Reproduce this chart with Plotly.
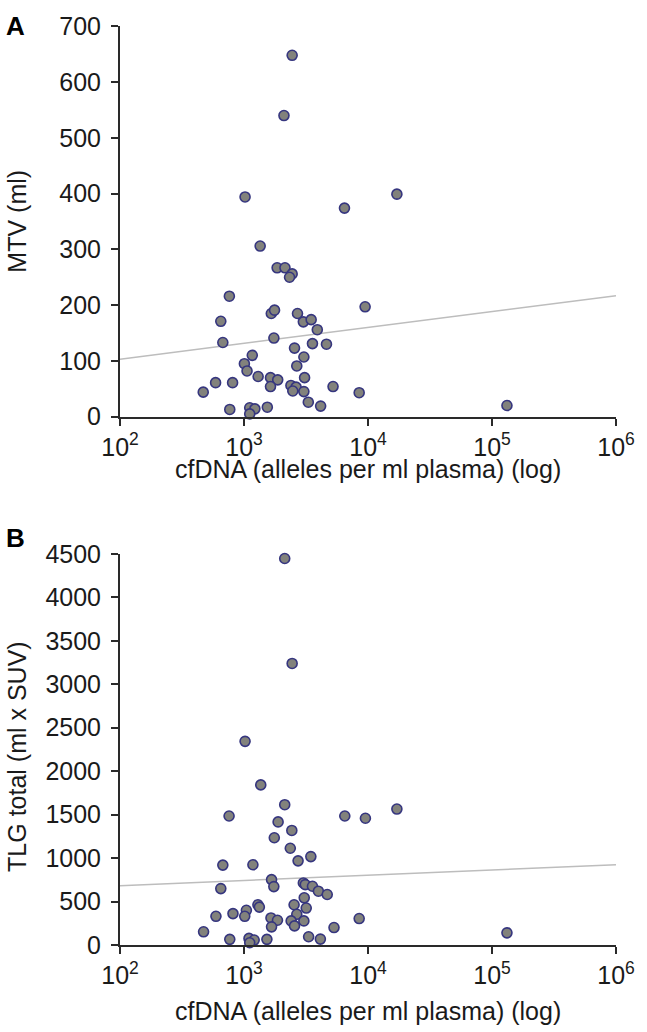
import plotly.graph_objects as go
import math

# ---------------- data ----------------
# Panel A: cfDNA (alleles/ml plasma) vs MTV (ml)
a_cfdna = [1020, 6460, 1350, 1850, 2140, 2445, 2330, 762, 650, 675, 1660, 1763, 1742,
           2700, 3010, 3480, 3900, 3565, 4625, 2555, 3040, 2665, 1166, 1007, 1058, 1300,
           1636, 1870, 1636, 3080, 2390, 2630, 2475, 3040, 5225, 590, 809, 469, 768,
           1112, 1224, 1112, 1542, 3300, 4150, 8490, 17100, 9480, 132000, 2445, 2100]
a_mtv = [394, 374, 306, 267, 267, 256, 250, 216, 171, 133, 185, 191, 141,
         185, 170, 174, 156, 131, 130, 123, 107, 91, 110, 95, 82, 72,
         70, 66, 54, 70, 56, 53, 46, 45, 54, 61, 61, 44, 13,
         16, 14, 5, 17, 26, 19, 43, 399, 197, 20, 648, 540]

# Panel B: cfDNA (alleles/ml plasma) vs TLG total (ml x SUV)
b_cfdna = [2130, 2445, 1020, 1365, 2130, 758, 6500, 9530, 17100, 1884, 2430, 1755,
           2362, 2730, 3460, 675, 1180, 1668, 1740, 650, 3010, 3120, 3565, 3980,
           4690, 3060, 2535, 3175, 1295, 1330, 594, 815, 1045, 1014, 1650, 1862,
           1668, 2665, 2400, 2555, 3040, 8490, 5320, 472, 768, 1097, 1208, 1112,
           1530, 3320, 4130, 132000]
b_tlg = [4446, 3239, 2343, 1842, 1614, 1484, 1484, 1458, 1564, 1416, 1318, 1234,
         1113, 968, 1017, 919, 923, 752, 672, 649, 714, 695, 676, 619,
         581, 543, 463, 425, 463, 436, 330, 361, 399, 330, 311, 285,
         209, 353, 277, 220, 277, 304, 201, 152, 65, 76, 57, 26,
         65, 95, 68, 140]

# Trend lines (value at 10^2 and change per decade of cfDNA)
trend_span = [1e2, 1e6]
a_trend_intercept, a_trend_slope = 103, 28.5
b_trend_intercept, b_trend_slope = 683, 60

x_tickvals = [1e2, 1e3, 1e4, 1e5, 1e6]
x_ticktext = ["10<sup>2</sup>", "10<sup>3</sup>", "10<sup>4</sup>", "10<sup>5</sup>", "10<sup>6</sup>"]
a_yticks = list(range(0, 701, 100))
b_yticks = list(range(0, 4501, 500))

x_title = "cfDNA (alleles per ml plasma) (log)"
a_ytitle = "MTV (ml)"
b_ytitle = "TLG total (ml x SUV)"

# ---------------- figure ----------------
W, H = 647, 1032
ML, MR, MT, MB = 120, 21, 17, 87
PW, PH = W - ML - MR, H - MT - MB


def px_x(x):
    return (x - ML) / PW


def px_y(y):
    return (H - MB - y) / PH


FONT = "Liberation Sans, Arial, Helvetica, sans-serif"
TXT = "#1a1a1a"
AX = "#2a2a2a"

marker = dict(size=10, color="#82827c", line=dict(color="#36367f", width=1.6))


def trend(intercept, slope):
    return [intercept + slope * (math.log10(v) - 2) for v in trend_span]


fig = go.Figure()
fig.add_trace(go.Scatter(x=trend_span, y=trend(a_trend_intercept, a_trend_slope),
                         mode="lines", line=dict(color="#bdbdbd", width=1.5),
                         xaxis="x", yaxis="y", hoverinfo="skip"))
fig.add_trace(go.Scatter(x=a_cfdna, y=a_mtv, mode="markers", marker=marker,
                         xaxis="x", yaxis="y", cliponaxis=False))
fig.add_trace(go.Scatter(x=trend_span, y=trend(b_trend_intercept, b_trend_slope),
                         mode="lines", line=dict(color="#bdbdbd", width=1.5),
                         xaxis="x2", yaxis="y2", hoverinfo="skip"))
fig.add_trace(go.Scatter(x=b_cfdna, y=b_tlg, mode="markers", marker=marker,
                         xaxis="x2", yaxis="y2", cliponaxis=False))

a_top, a_bot = px_y(17.3), px_y(411.5)
b_top, b_bot = px_y(550), px_y(945)

xcommon = dict(type="log", range=[2, 6], tickvals=x_tickvals, ticktext=x_ticktext,
               showgrid=False, zeroline=False, showline=True, linecolor=AX, linewidth=2,
               ticks="outside", ticklen=7, tickwidth=1.5, tickcolor=AX,
               tickfont=dict(family=FONT, size=25, color=TXT), domain=[0, 1],
               ticklabelstandoff=0)
ycommon = dict(showgrid=False, zeroline=False, showline=True, linecolor=AX, linewidth=2,
               ticks="outside", ticklen=7, tickwidth=1.5, tickcolor=AX,
               tickfont=dict(family=FONT, size=25, color=TXT), ticklabelstandoff=5)

fig.update_layout(
    width=W, height=H, showlegend=False,
    margin=dict(l=ML, r=MR, t=MT, b=MB),
    paper_bgcolor="white", plot_bgcolor="white",
    font=dict(family=FONT, color=TXT),
    xaxis=dict(anchor="y", **xcommon),
    yaxis=dict(domain=[a_bot, a_top], range=[0, 700], tickvals=a_yticks, **ycommon),
    xaxis2=dict(anchor="y2", **xcommon),
    yaxis2=dict(domain=[b_bot, b_top], range=[0, 4500], tickvals=b_yticks, **ycommon),
)

ann = []
ann.append(dict(text="<b>A</b>", x=px_x(2), y=px_y(0), xanchor="left", yanchor="top",
                font=dict(size=26, family=FONT, color="black")))
ann.append(dict(text="<b>B</b>", x=px_x(2), y=px_y(517), xanchor="left", yanchor="top",
                font=dict(size=26, family=FONT, color="black")))
ann.append(dict(text=a_ytitle, x=px_x(15), y=px_y(214.5), textangle=-90,
                xanchor="center", yanchor="middle", font=dict(size=25, family=FONT, color=TXT)))
ann.append(dict(text=b_ytitle, x=px_x(15), y=px_y(755), textangle=-90,
                xanchor="center", yanchor="middle", font=dict(size=25, family=FONT, color=TXT)))
ann.append(dict(text=x_title, x=px_x(373), y=px_y(464), xanchor="center", yanchor="middle",
                font=dict(size=25, family=FONT, color=TXT)))
ann.append(dict(text=x_title, x=px_x(373), y=px_y(1012), xanchor="center", yanchor="middle",
                font=dict(size=25, family=FONT, color=TXT)))
for a in ann:
    a.update(xref="paper", yref="paper", showarrow=False)
fig.update_layout(annotations=ann)

post = (
    "document.documentElement.style.overflow='hidden';"
    "document.body.style.margin='0';"
    "document.body.style.overflow='hidden';"
)
fig.write_html("out.html", config={"displayModeBar": False}, post_script=post)
